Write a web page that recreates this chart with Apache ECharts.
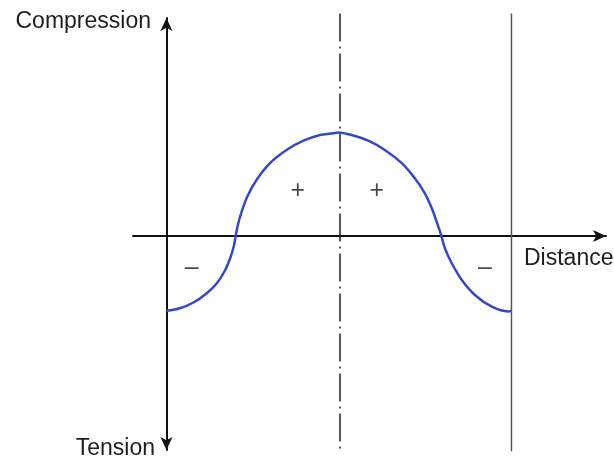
<!DOCTYPE html>
<html>
<head>
<meta charset="utf-8">
<script src="https://cdn.jsdelivr.net/npm/echarts@6/dist/echarts.min.js"></script>
<style>
  html, body { margin: 0; padding: 0; background: #fff; }
  #main { width: 614px; height: 459px; }
</style>
</head>
<body>
<div id="main"></div>
<script>
// curve: distance (0 = left support, 10 = right) vs stress
var distance = [0, 0.39, 0.78, 1.17, 1.46, 1.70, 1.86, 1.96, 2.01, 2.08, 2.18, 2.34, 2.61, 3.0, 3.48, 3.97, 4.45, 4.83, 4.97,
                5.37, 5.85, 6.33, 6.82, 7.20, 7.49, 7.69, 7.83, 7.96, 8.07, 8.27, 8.56, 8.94, 9.43, 9.91, 10.0];
var stress = [-0.72, -0.695, -0.64, -0.55, -0.455, -0.33, -0.20, -0.087, 0.01, 0.12, 0.234, 0.378, 0.538, 0.70, 0.827, 0.916, 0.971, 0.988, 0.995,
              0.971, 0.916, 0.827, 0.70, 0.555, 0.41, 0.266, 0.1375, 0.01, -0.118, -0.2625, -0.423, -0.567, -0.68, -0.726, -0.72];

var signText = ['\u2013', '+', '+', '\u2013'];
var signX = [0.73, 3.81, 6.10, 9.23];
var signY = [-0.31, 0.43, 0.43, -0.31];

var centerX = 5.03;
var edgeX = 10;
var lineTop = 2.14;
var lineBottom = -2.07;

var charts;

window.onload = function () {
    charts = echarts.init(document.getElementById('main'));
    charts.setOption(buildOption());
};

function buildOption() {
    var curve = [];
    for (var i = 0; i < distance.length; i++) {
        curve.push([distance[i], stress[i]]);
    }
    var signs = [];
    for (var j = 0; j < signText.length; j++) {
        signs.push({ value: [signX[j], signY[j]], name: signText[j] });
    }
    var txt = { fontFamily: 'Liberation Sans', fontSize: 23, fill: '#1e1e1e' };

    return {
        animation: false,
        grid: { left: 133, right: 8, top: 18, bottom: 9 },
        xAxis: {
            type: 'value', min: -0.97, max: 12.74,
            axisLine: { onZero: true, symbol: ['none', 'arrow'], symbolSize: [9, 13],
                        lineStyle: { color: '#111', width: 2 } },
            axisTick: { show: false }, axisLabel: { show: false }, splitLine: { show: false }
        },
        yAxis: {
            type: 'value', min: -2.058, max: 2.096,
            axisLine: { onZero: true, symbol: ['arrow', 'arrow'], symbolSize: [9, 13],
                        lineStyle: { color: '#111', width: 2 } },
            axisTick: { show: false }, axisLabel: { show: false }, splitLine: { show: false }
        },
        graphic: [
            { type: 'text', right: 614 - 151, top: 10, style: Object.assign({ text: 'Compression' }, txt) },
            { type: 'text', right: 614 - 155, top: 437, style: Object.assign({ text: 'Tension' }, txt) },
            { type: 'text', left: 524, top: 247, style: Object.assign({ text: 'Distance' }, txt) }
        ],
        series: [
            {
                type: 'line', clip: false, symbol: 'none', silent: true,
                data: [[edgeX, lineTop], [edgeX, lineBottom]],
                lineStyle: { color: '#555', width: 1.5 }
            },
            {
                type: 'line', clip: false, symbol: 'none', silent: true,
                data: [[centerX, lineTop], [centerX, lineBottom]],
                lineStyle: { color: '#222', width: 1.5, type: [28, 5, 2, 5] }
            },
            {
                type: 'line', symbol: 'none', smooth: 0.3, silent: true,
                data: curve,
                lineStyle: { color: '#3548c8', width: 2.5 }
            },
            {
                type: 'scatter', symbolSize: 0, silent: true,
                data: signs,
                label: {
                    show: true, position: 'inside', formatter: '{b}',
                    fontFamily: 'Liberation Sans', fontSize: 25, color: '#1a1a1a'
                }
            }
        ]
    };
}
</script>
</body>
</html>
